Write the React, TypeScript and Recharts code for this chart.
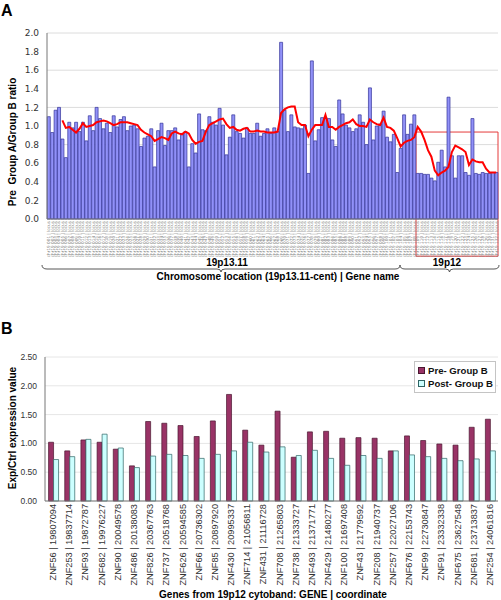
import React from "react"
import {
  ComposedChart,
  BarChart,
  Bar,
  Line,
  XAxis,
  YAxis,
  CartesianGrid,
  ReferenceArea,
  Legend,
} from "recharts"

// Panel A: Pre Group A / Group B ratio per locus, ordered along 19p13.11 -> cent
const ratio = [
  1.10, 0.93, 1.17, 1.20, 0.86, 0.66, 1.04, 0.98, 1.04, 0.94,
  1.04, 0.84, 1.11, 0.95, 1.20, 1.08, 0.97, 1.03, 0.93, 1.11,
  0.99, 1.07, 1.10, 0.95, 1.00, 1.01, 0.97, 0.78, 0.87, 0.89,
  0.97, 0.56, 0.95, 1.03, 0.79, 0.95, 0.95, 0.98, 0.85, 0.92,
  0.94, 0.56, 0.81, 0.71, 1.13, 0.96, 0.95, 1.10, 1.04, 1.01,
  1.19, 1.01, 0.69, 0.88, 1.12, 0.94, 0.92, 0.87, 0.98, 0.92,
  0.92, 1.03, 0.89, 0.92, 0.97, 0.92, 0.98, 0.94, 1.90, 1.17,
  0.94, 1.12, 0.99, 0.98, 0.97, 1.01, 0.49, 1.70, 0.84, 0.96,
  1.09, 1.09, 1.08, 0.85, 0.78, 1.28, 1.13, 1.01, 0.98, 0.94,
  0.97, 1.12, 1.04, 0.80, 1.41, 0.85, 1.00, 1.02, 1.16, 0.88,
  0.83, 0.91, 0.50, 0.76, 1.12, 0.91, 1.02, 1.12, 0.49, 0.49,
  0.48, 0.48, 0.44, 0.41, 0.61, 0.74, 0.56, 1.31, 0.68, 0.44,
  0.68, 0.68, 0.50, 0.47, 1.08, 0.49, 0.48, 0.50, 0.49, 0.49,
  0.50, 0.50,
]

// red trend line (moving average)
const movingAvg = [
  null, null, null, null, 1.06, 0.98, 0.99, 0.96, 0.93, 0.97,
  1.03, 0.99, 1.00, 1.01, 1.04, 1.05, 1.06, 1.05, 1.03, 1.01,
  1.02, 1.04, 1.04, 1.04, 1.03, 1.02, 1.01, 0.96, 0.93, 0.91,
  0.89, 0.84, 0.86, 0.88, 0.87, 0.85, 0.92, 0.94, 0.92, 0.91,
  0.94, 0.92, 0.85, 0.81, 0.83, 0.84, 0.94, 1.01, 1.03, 1.05,
  1.07, 1.08, 1.02, 0.98, 0.99, 0.96, 0.95, 0.97, 0.98, 0.94,
  0.94, 0.95, 0.94, 0.94, 0.93, 0.93, 0.93, 0.94, 1.14, 1.18,
  1.20, 1.21, 1.21, 1.04, 1.01, 1.01, 0.89, 0.96, 1.01, 1.01,
  1.01, 1.12, 0.99, 0.99, 0.96, 0.99, 1.01, 1.03, 1.04, 1.07,
  1.02, 1.00, 1.00, 0.99, 1.07, 1.04, 1.02, 1.01, 1.09, 0.99,
  0.98, 0.95, 0.87, 0.78, 0.82, 0.84, 0.85, 0.88, 0.99, 0.94,
  0.85, 0.74, 0.67, 0.52, 0.47, 0.50, 0.52, 0.56, 0.72, 0.79,
  0.77, 0.75, 0.72, 0.58, 0.64, 0.62, 0.61, 0.61, 0.54, 0.50,
  0.50, 0.50,
]

// tick labels are unreadable in the source; placeholder locus ids
const locusLabels = ratio.map((_, i) => `chr19 ${String(i + 1).padStart(3, "0")} | locus`)
const ratioTicks = [0, 0.2, 0.4, 0.6, 0.8, 1.0, 1.2, 1.4, 1.6, 1.8, 2.0]

// Panel B: 19p12 genes
const genes = [
  "ZNF56 | 19807094", "ZNF253 | 19837714", "ZNF93 | 19872787", "ZNF682 | 19976227",
  "ZNF90 | 20049578", "ZNF486 | 20138083", "ZNF826 | 20367763", "ZNF737 | 20518768",
  "ZNF626 | 20594585", "ZNF66 | 20736302", "ZNF85 | 20897920", "ZNF430 | 20995337",
  "ZNF714 | 21056811", "ZNF431 | 21116728", "ZNF708 | 21265803", "ZNF738 | 21333727",
  "ZNF493 | 21371771", "ZNF429 | 21480277", "ZNF100 | 21697408", "ZNF43 | 21779592",
  "ZNF208 | 21940737", "ZNF257 | 22027106", "ZNF676 | 22153743", "ZNF99 | 22730847",
  "ZNF91 | 23332338", "ZNF675 | 23627548", "ZNF681 | 23713837", "ZNF254 | 24061816",
]
const preGroupB = [
  1.02, 0.87, 1.06, 1.02, 0.90, 0.61, 1.38, 1.35, 1.31, 1.12,
  1.39, 1.85, 1.23, 0.97, 1.56, 0.76, 1.20, 1.21, 1.09, 1.10,
  1.09, 0.87, 1.13, 1.05, 0.99, 0.97, 1.28, 1.42,
]
const postGroupB = [
  0.72, 0.77, 1.07, 1.16, 0.92, 0.58, 0.78, 0.81, 0.79, 0.74,
  0.81, 0.87, 1.02, 0.85, 0.94, 0.79, 0.88, 0.74, 0.62, 0.79,
  0.74, 0.87, 0.80, 0.77, 0.74, 0.70, 0.73, 0.87,
]
const exprTicks = [0, 0.25, 0.5, 0.75, 1.0, 1.25, 1.5, 1.75, 2.0, 2.25, 2.5]

const seriesOrder = ["pre", "post"]
const seriesStyle: Record<string, { fill: string; stroke: string }> = {
  pre: { fill: "#993366", stroke: "#4a1730" },
  post: { fill: "#CCFFFF", stroke: "#2f6464" },
}

const topData = ratio.map((r, i) => ({ locus: locusLabels[i], ratio: r, avg: movingAvg[i] }))
const bottomData = genes.map((g, i) => ({ gene: g, pre: preGroupB[i], post: postGroupB[i] }))

const FONT = "'Liberation Sans', Arial, sans-serif"

function LocusTick({ x, y, payload }: any) {
  return (
    <text
      x={x}
      y={y}
      transform={`rotate(-90 ${x} ${y})`}
      textAnchor="end"
      dominantBaseline="central"
      fontSize={4.2}
      fill="#808080"
      fontFamily="DejaVu Sans"
    >
      {payload.value}
    </text>
  )
}

function GeneTick({ x, y, payload }: any) {
  return (
    <text
      x={x}
      y={y}
      transform={`rotate(-90 ${x} ${y})`}
      textAnchor="end"
      dominantBaseline="central"
      fontSize={9.2}
      fill="#333"
      fontFamily={FONT}
    >
      {payload.value}
    </text>
  )
}

function GroupLegend({ payload }: any) {
  const items = [...(payload || [])].sort(
    (a: any, b: any) => seriesOrder.indexOf(a.dataKey) - seriesOrder.indexOf(b.dataKey)
  )
  return (
    <div
      style={{
        border: "1px solid #c4c4c4",
        background: "#fff",
        padding: "2px 0 2px 3px",
        fontFamily: FONT,
        fontWeight: "bold",
        fontSize: 9.6,
        lineHeight: "13px",
        color: "#111",
      }}
    >
      {items.map((entry: any) => {
        const s = seriesStyle[entry.dataKey] || { fill: entry.color, stroke: "#333" }
        return (
          <div key={entry.dataKey} style={{ display: "flex", alignItems: "center" }}>
            <span
              style={{
                display: "inline-block",
                width: 5,
                height: 5,
                background: s.fill,
                border: `1px solid ${s.stroke}`,
                marginRight: 3,
              }}
            />
            {entry.value}
          </div>
        )
      })}
    </div>
  )
}

// under-brace for the cytoband groups
function brace(x0: number, x1: number, y: number) {
  const mid = (x0 + x1) / 2
  return `M${x0},${y - 4} Q${x0},${y} ${x0 + 5},${y} L${mid - 4},${y} Q${mid},${y} ${mid},${y + 3} Q${mid},${y} ${mid + 4},${y} L${x1 - 5},${y} Q${x1},${y} ${x1},${y - 4}`
}

export default function App() {
  return (
    <div style={{ position: "relative", width: 501, height: 600, overflow: "hidden", background: "#fff", fontFamily: FONT }}>
      <style>{"body{margin:0}"}</style>

      <div style={{ position: "absolute", left: 0, top: 0 }}>
        <ComposedChart width={501} height={262} data={topData} margin={{ top: 33, right: 3, bottom: 0, left: 0 }} barCategoryGap="8%">
          <CartesianGrid vertical={false} stroke="#dcdcdc" />
          <XAxis
            dataKey="locus"
            interval={0}
            tick={(p: any) => <LocusTick {...p} />}
            tickLine={false}
            tickSize={0}
            tickMargin={2}
            height={43}
            axisLine={{ stroke: "#777" }}
          />
          <XAxis xAxisId="top" orientation="top" dataKey="locus" height={0} tick={false} tickLine={false} axisLine={{ stroke: "#777" }} />
          <YAxis
            domain={[0, 2]}
            ticks={ratioTicks}
            tickFormatter={(v: number) => v.toFixed(1)}
            width={47}
            tickLine={false}
            axisLine={{ stroke: "#777" }}
            tick={{ fontSize: 9, fill: "#333", fontFamily: "DejaVu Sans" }}
          />
          <YAxis yAxisId="right" orientation="right" width={0} tick={false} tickLine={false} axisLine={{ stroke: "#777" }} />
          <Bar dataKey="ratio" fill="#9191F8" stroke="#333399" strokeWidth={0.7} isAnimationActive={false} />
          <Line dataKey="avg" type="linear" stroke="#FF0000" strokeWidth={2} dot={false} connectNulls={false} isAnimationActive={false} />
          <ReferenceArea
            x1={locusLabels[108]}
            x2={locusLabels[131]}
            y1={-0.4}
            y2={0.935}
            fill="none"
            stroke="#e43a3a"
            strokeWidth={1}
            ifOverflow="visible"
          />
        </ComposedChart>
      </div>

      <div style={{ position: "absolute", left: 0, top: 300 }}>
        <BarChart width={501} height={300} data={bottomData} margin={{ top: 57, right: 3, bottom: 0, left: 0 }} barCategoryGap="22%" barGap={0}>
          <CartesianGrid vertical={false} stroke="#e6e6e6" />
          <XAxis
            dataKey="gene"
            interval={0}
            tick={(p: any) => <GeneTick {...p} />}
            tickLine={false}
            tickSize={0}
            tickMargin={3}
            height={99}
            axisLine={{ stroke: "#777" }}
          />
          <XAxis xAxisId="top" orientation="top" dataKey="gene" height={0} tick={false} tickLine={false} axisLine={{ stroke: "#777" }} />
          <YAxis
            domain={[0, 2.5]}
            ticks={exprTicks}
            tickFormatter={(v: number) => v.toFixed(2)}
            width={45}
            tickLine={false}
            axisLine={{ stroke: "#777" }}
            tick={{ fontSize: 8.5, fill: "#333", fontFamily: FONT }}
          />
          <YAxis yAxisId="right" orientation="right" width={0} tick={false} tickLine={false} axisLine={{ stroke: "#777" }} />
          <Legend
            layout="vertical"
            align="center"
            verticalAlign="middle"
            content={(p: any) => <GroupLegend {...p} />}
            wrapperStyle={{ top: 61, left: 414, width: 82 }}
          />
          <Bar dataKey="pre" name="Pre- Group B" fill={seriesStyle.pre.fill} stroke={seriesStyle.pre.stroke} strokeWidth={0.7} isAnimationActive={false} />
          <Bar dataKey="post" name="Post- Group B" fill={seriesStyle.post.fill} stroke={seriesStyle.post.stroke} strokeWidth={0.7} isAnimationActive={false} />
        </BarChart>
      </div>

      <svg width={501} height={600} style={{ position: "absolute", left: 0, top: 0, pointerEvents: "none" }}>
        <g fontFamily={FONT} fontWeight="bold" fill="#000">
          <text x={1} y={16} fontSize={16}>A</text>
          <text x={1} y={334} fontSize={16}>B</text>
          <text x={16} y={142} fontSize={10} textAnchor="middle" transform="rotate(-90 16 142)" xmlSpace="preserve">
            Pre  Group A/Group B ratio
          </text>
          <text x={227} y={266} fontSize={10} textAnchor="middle">19p13.11</text>
          <text x={447} y={266} fontSize={10} textAnchor="middle">19p12</text>
          <text x={278} y={280} fontSize={10} textAnchor="middle">Chromosome location (19p13.11-cent) | Gene name</text>
          <text x={16} y={428} fontSize={10} textAnchor="middle" transform="rotate(-90 16 428)">Exp/Ctrl expression value</text>
          <text x={273} y={598} fontSize={10} textAnchor="middle">Genes from 19p12 cytoband: GENE | coordinate</text>
        </g>
        <path d={brace(42, 400, 269)} fill="none" stroke="#444" strokeWidth={0.9} />
        <path d={brace(400, 499, 269)} fill="none" stroke="#444" strokeWidth={0.9} />
      </svg>
    </div>
  )
}
